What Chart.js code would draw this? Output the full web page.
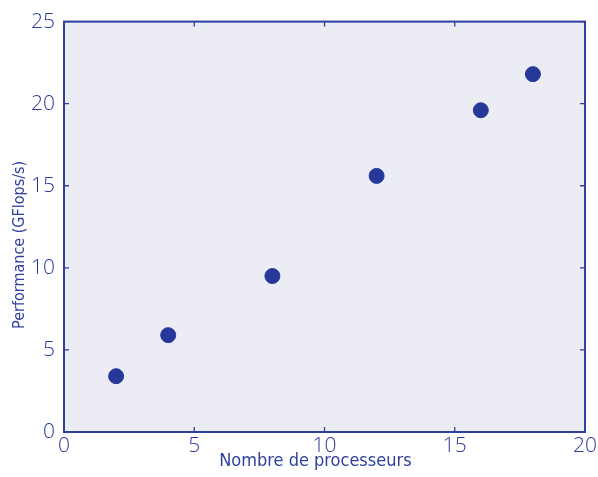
<!DOCTYPE html>
<html lang="fr">
<head>
<meta charset="UTF-8">
<title>Performance</title>
<script src="https://cdn.jsdelivr.net/npm/chart.js@4.4.0/dist/chart.umd.min.js"></script>
<style>
html,body{margin:0;padding:0;background:#fff}
#box{width:598px;height:477px;position:relative}
</style>
</head>
<body>
<div id="box"><canvas id="c"></canvas></div>
<script>
const procs = [2, 4, 8, 12, 16, 18];
const gflops = [3.4, 5.9, 9.5, 15.6, 19.6, 21.8];
const xTicks = [0, 5, 10, 15, 20];
const yTicks = [0, 5, 10, 15, 20, 25];
const xTitle = 'Nombre de processeurs';
const yTitle = 'Performance (GFlops/s)';

const ink = '#2f3f9e';
const dot = '#26399a';
const bg = '#ececf5';
const tickFont = {family:'"Open Sans", "DejaVu Sans", sans-serif', size:21, weight:'300'};
const titleFam = '"DejaVu Sans Condensed", "Liberation Sans Narrow", sans-serif';

/* fond + cadre + petites graduations vers l'intérieur + titres d'axes */
const frame = {
  id:'frame',
  beforeDraw(ch){
    const a = ch.chartArea, g = ch.ctx;
    g.save();
    g.fillStyle = bg;
    g.fillRect(a.left, a.top, a.right-a.left, a.bottom-a.top);
    g.restore();
  },
  afterDatasetsDraw(ch){
    const a = ch.chartArea, g = ch.ctx;
    const sx = ch.scales.x, sy = ch.scales.y;
    g.save();
    g.strokeStyle = ink;
    g.lineWidth = 1.3;
    g.beginPath();
    xTicks.forEach(v=>{
      const p = sx.getPixelForValue(v);
      g.moveTo(p, a.bottom); g.lineTo(p, a.bottom-5);
      g.moveTo(p, a.top); g.lineTo(p, a.top+5);
    });
    yTicks.forEach(v=>{
      const p = sy.getPixelForValue(v);
      g.moveTo(a.left, p); g.lineTo(a.left+5, p);
      g.moveTo(a.right, p); g.lineTo(a.right-5, p);
    });
    g.stroke();
    g.lineWidth = 2;
    g.strokeRect(a.left, a.top, a.right-a.left, a.bottom-a.top);

    // titres (le centre de l'original est un peu décalé)
    g.fillStyle = ink;
    g.textAlign = 'center';
    g.textBaseline = 'alphabetic';
    g.font = '200 18px ' + titleFam;
    g.fillText(xTitle, sx.getPixelForValue(9.65), 466);
    g.translate(24, sy.getPixelForValue(11.4));
    g.rotate(-Math.PI/2);
    g.font = '200 16px ' + titleFam;
    g.fillText(yTitle, 0, 0);
    g.restore();
  }
};

new Chart(document.getElementById('c'), {
  type:'scatter',
  data:{datasets:[{
    data: procs.map((x,i)=>({x, y:gflops[i]})),
    backgroundColor: dot,
    borderColor: dot,
    pointRadius: 7.5,
    pointHoverRadius: 7.5
  }]},
  options:{
    responsive:true,
    maintainAspectRatio:false,
    animation:false,
    layout:{padding:{top:19, right:11, left:0, bottom:0}},
    plugins:{legend:{display:false}, tooltip:{enabled:false}},
    scales:{
      x:{
        type:'linear', min:0, max:20,
        afterBuildTicks: s=>{ s.ticks = xTicks.map(v=>({value:v})); },
        afterFit: s=>{ s.height = 45; },
        grid:{display:false, drawTicks:false},
        border:{display:false},
        ticks:{color:'#2a3a98', font:tickFont, padding:1, maxRotation:0}
      },
      y:{
        type:'linear', min:0, max:25,
        afterBuildTicks: s=>{ s.ticks = yTicks.map(v=>({value:v})); },
        afterFit: s=>{ s.width = 64; },
        grid:{display:false, drawTicks:false},
        border:{display:false},
        ticks:{color:'#2a3a98', font:tickFont, padding:9}
      }
    }
  },
  plugins:[frame]
});
</script>
</body>
</html>
